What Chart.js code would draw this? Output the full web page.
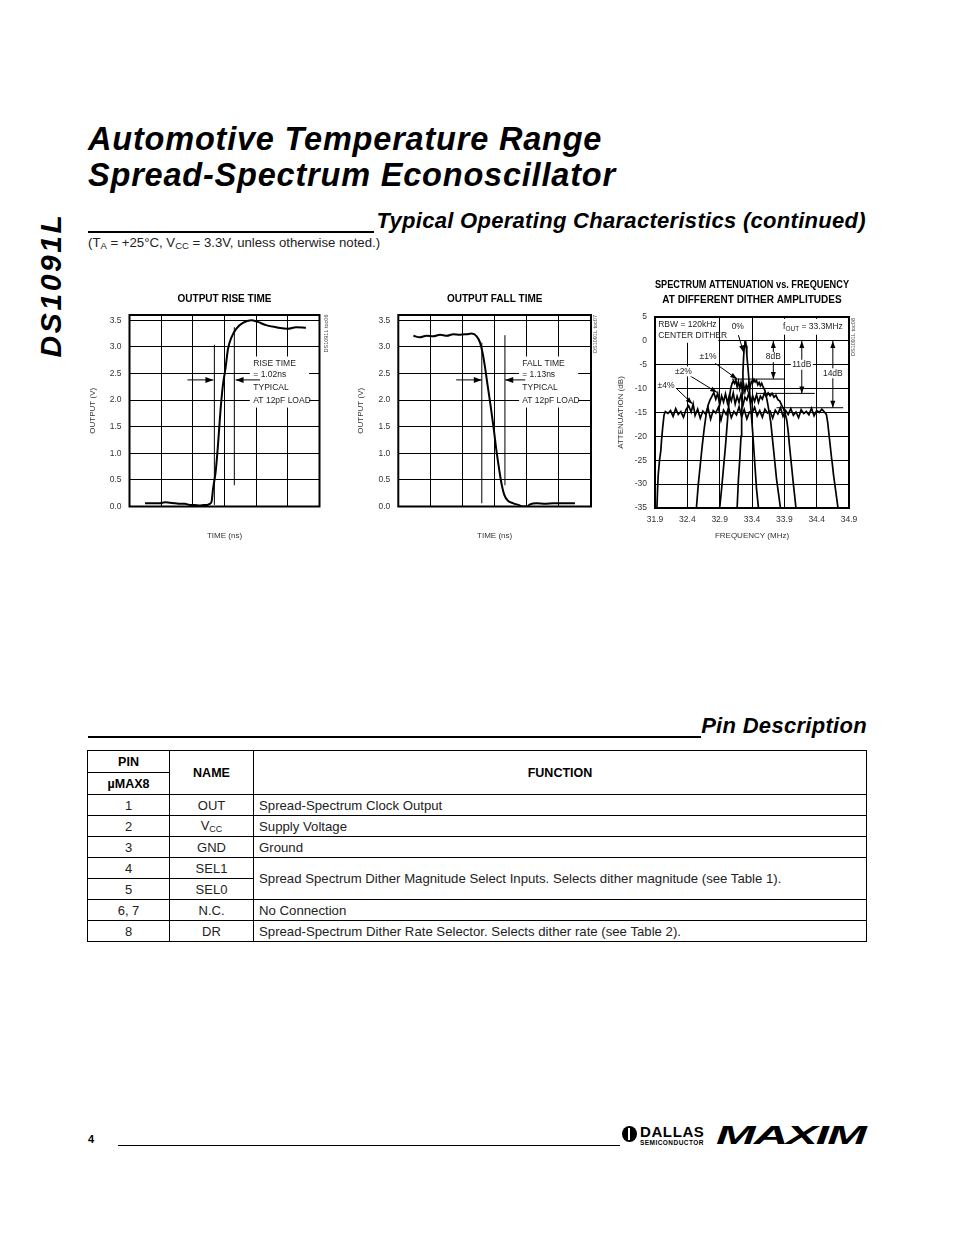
<!DOCTYPE html>
<html>
<head>
<meta charset="utf-8">
<script src="https://cdn.jsdelivr.net/npm/chart.js@4.4.0/dist/chart.umd.min.js"></script>
<style>
body { margin: 0; background: #fff; font-family: "Liberation Sans", Arial, sans-serif; color: #000; }
#page { position: relative; width: 954px; height: 1235px; overflow: hidden; background: #fff; }
.abs { position: absolute; }
.side { left: 51px; top: 285px; font: italic bold 30px "Liberation Sans", Arial, sans-serif; letter-spacing: 2.6px;
        transform: translate(-50%, -50%) rotate(-90deg); white-space: nowrap; }
.title { left: 88px; font: italic bold 32.5px/32.5px "Liberation Sans", Arial, sans-serif; letter-spacing: 0.8px; white-space: nowrap; }
.head { font: italic bold 22px/22px "Liberation Sans", Arial, sans-serif; letter-spacing: 0.3px; white-space: nowrap; text-align: right; }
.rule { height: 1.5px; background: #000; }
.cond { left: 88px; top: 235px; font-size: 13.2px; line-height: 15px; color: #222; white-space: nowrap; }
.cond .sb { font-size: 9.5px; position: relative; top: 2px; }
.chartbox { position: absolute; }
table.pins { position: absolute; left: 87px; top: 750px; width: 779px; border-collapse: collapse; table-layout: fixed;
             font-size: 13px; color: #222; }
table.pins td, table.pins th { border: 1px solid #000; padding: 0; text-align: center; vertical-align: middle; }
table.pins th { font-size: 12.5px; font-weight: bold; color: #000; height: 21px; }
table.pins td { height: 20px; }
table.pins td.fn { text-align: left; padding-left: 5px; font-size: 13.2px; }
table.pins sub { font-size: 9px; vertical-align: -2px; }
.pg { left: 88px; top: 1133px; font-size: 11px; font-weight: bold; }
.foot-rule { left: 118px; top: 1145px; width: 502px; height: 1px; background: #000; }
.dallas-icon { left: 622px; top: 1126px; width: 15px; height: 16px; border-radius: 50%; background: #000; }
.dallas-icon:after { content: ""; position: absolute; left: 6px; top: 2px; width: 2px; height: 12px; background: #fff; }
.dallas { left: 640px; top: 1123px; font: bold 15px "Liberation Sans", Arial, sans-serif; letter-spacing: 0.6px; }
.semi { left: 640px; top: 1139px; font: bold 6.5px "Liberation Sans", Arial, sans-serif; letter-spacing: 0.45px; }
.maxim { left: 716px; top: 1121px; font: italic 900 25px "Liberation Sans", Arial, sans-serif; transform: scaleX(1.9);
         transform-origin: left top; letter-spacing: -1px; }
</style>
</head>
<body>
<div id="page">
  <div class="abs side">DS1091L</div>
  <div class="abs title" style="top:122.5px;">Automotive Temperature Range</div>
  <div class="abs title" style="top:159px;">Spread-Spectrum Econoscillator</div>

  <div class="abs rule" style="left:88px; top:231px; width:286px;"></div>
  <div class="abs head" style="right:88px; top:210px;">Typical Operating Characteristics (continued)</div>
  <div class="abs cond">(T<span class="sb">A</span> = +25°C, V<span class="sb">CC</span> = 3.3V, unless otherwise noted.)</div>

  <div class="chartbox" style="left:80px; top:285px;"><canvas id="riseChart" width="260" height="260"></canvas></div>
  <div class="chartbox" style="left:345px; top:285px;"><canvas id="fallChart" width="265" height="260"></canvas></div>
  <div class="chartbox" style="left:610px; top:270px;"><canvas id="specChart" width="260" height="275"></canvas></div>

  <div class="abs rule" style="left:88px; top:736px; width:613px;"></div>
  <div class="abs head" style="right:87px; top:715px;">Pin Description</div>

  <table class="pins">
    <colgroup><col style="width:82px"><col style="width:84px"><col style="width:613px"></colgroup>
    <tr><th>PIN</th><th rowspan="2">NAME</th><th rowspan="2">FUNCTION</th></tr>
    <tr><th>µMAX8</th></tr>
    <tr><td>1</td><td>OUT</td><td class="fn">Spread-Spectrum Clock Output</td></tr>
    <tr><td>2</td><td>V<sub>CC</sub></td><td class="fn">Supply Voltage</td></tr>
    <tr><td>3</td><td>GND</td><td class="fn">Ground</td></tr>
    <tr><td>4</td><td>SEL1</td><td class="fn" rowspan="2">Spread Spectrum Dither Magnitude Select Inputs. Selects dither magnitude (see Table 1).</td></tr>
    <tr><td>5</td><td>SEL0</td></tr>
    <tr><td>6, 7</td><td>N.C.</td><td class="fn">No Connection</td></tr>
    <tr><td>8</td><td>DR</td><td class="fn">Spread-Spectrum Dither Rate Selector. Selects dither rate (see Table 2).</td></tr>
  </table>

  <div class="abs pg">4</div>
  <div class="abs foot-rule"></div>
  <div class="abs dallas-icon"></div>
  <div class="abs dallas">DALLAS</div>
  <div class="abs semi">SEMICONDUCTOR</div>
  <div class="abs maxim">MAXIM</div>
</div>

<script>
// tick / grid values
const voltTicks = [0, 0.5, 1, 1.5, 2, 2.5, 3, 3.5];
const timeGrid = [0, 1, 2, 3, 4, 5, 6];
const freqTicks = [31.9, 32.4, 32.9, 33.4, 33.9, 34.4, 34.9];
const attTicks = [5, 0, -5, -10, -15, -20, -25, -30, -35];

// output rise time (ns, V)
const riseTime = [0.49, 0.75, 0.96, 1.12, 1.28, 1.45, 1.59, 1.75, 1.91, 2.05, 2.22, 2.35, 2.45, 2.53, 2.59, 2.64,
                  2.72, 2.8, 2.87, 2.95, 3.03, 3.11, 3.22, 3.37, 3.58, 3.84, 4.05, 4.31, 4.63, 5.0, 5.26, 5.57];
const riseVolt = [0.06, 0.06, 0.06, 0.08, 0.07, 0.06, 0.05, 0.05, 0.03, 0.03, 0.02, 0.03, 0.03, 0.05, 0.09, 0.34,
                  0.65, 1.2, 1.78, 2.28, 2.59, 2.96, 3.18, 3.34, 3.45, 3.5, 3.47, 3.41, 3.37, 3.34, 3.37, 3.36];

// output fall time (ns, V)
const fallTime = [0.47, 0.67, 0.88, 1.09, 1.3, 1.51, 1.71, 1.92, 2.13, 2.28, 2.44, 2.54, 2.62, 2.7, 2.78, 2.88,
                  2.97, 3.06, 3.15, 3.22, 3.3, 3.41, 3.58, 3.74, 3.89, 4.0, 4.1, 4.31, 4.57, 4.83, 5.09, 5.5];
const fallVolt = [3.21, 3.18, 3.21, 3.2, 3.23, 3.21, 3.24, 3.23, 3.24, 3.25, 3.2, 3.09, 2.9, 2.62, 2.28, 1.87,
                  1.47, 1.03, 0.66, 0.41, 0.22, 0.11, 0.06, 0.03, 0.0, 0.0, 0.04, 0.06, 0.05, 0.06, 0.06, 0.06];

// spectrum, 0% dither (MHz, dB)
const f0 = [33.17, 33.19, 33.21, 33.23, 33.24, 33.25, 33.26, 33.27, 33.28, 33.29, 33.30, 33.31, 33.32, 33.34,
            33.36, 33.37, 33.39, 33.41, 33.43, 33.45, 33.47, 33.50];
const a0 = [-35, -29, -25, -20, -16, -11, -6.5, -3.5, -1.2, -0.2, -0.1, -1, -3, -6, -9.5, -12, -15.5, -19, -23, -27, -31, -35];

// spectrum, +/-1% dither
const f1 = [32.90, 32.93, 32.96, 32.99, 33.01, 33.03, 33.05, 33.07, 33.09, 33.11, 33.13, 33.15, 33.17, 33.19, 33.21,
            33.23, 33.25, 33.27, 33.29, 33.31, 33.33, 33.35, 33.37, 33.39, 33.41, 33.43, 33.45, 33.47, 33.49, 33.51,
            33.53, 33.55, 33.57, 33.60, 33.63, 33.66, 33.69, 33.72, 33.75, 33.78, 33.81, 33.84];
const a1 = [-35, -31, -26.5, -22, -18.5, -15, -12, -10, -9.0, -8.4, -8.9, -8.2, -9.6, -8.5, -10.0,
            -8.7, -10.4, -9.1, -10.6, -9.3, -10.2, -8.9, -9.7, -8.5, -8.8, -8.1, -8.6, -8.3, -9.2, -8.7,
            -9.4, -8.9, -9.6, -10.4, -12.2, -14.5, -17, -21, -25, -29, -32, -35];

// spectrum, +/-2% dither
const f2 = [32.54, 32.57, 32.60, 32.63, 32.66, 32.69, 32.72, 32.75, 32.78, 32.81, 32.84, 32.87, 32.90, 32.93, 32.96,
            32.99, 33.02, 33.05, 33.08, 33.11, 33.14, 33.17, 33.20, 33.23, 33.26, 33.29, 33.32, 33.35, 33.38, 33.41,
            33.44, 33.47, 33.50, 33.53, 33.56, 33.59, 33.62, 33.65, 33.68, 33.71, 33.74, 33.77, 33.80, 33.83, 33.86,
            33.89, 33.92, 33.94, 33.96, 33.98, 34.01, 34.04, 34.08];
const a2 = [-35, -30, -26, -22, -18.5, -15.5, -13.5, -12.4, -11.6, -10.8, -12.2, -11.0, -13.4, -11.5, -12.8,
            -11.1, -13.0, -11.4, -12.6, -10.9, -13.2, -11.6, -12.9, -11.2, -13.5, -11.8, -12.4, -11.0, -13.1, -11.5,
            -12.7, -11.3, -12.9, -11.6, -12.2, -11.0, -11.7, -10.9, -11.5, -11.0, -11.8, -11.4, -12.3, -12.6, -13.5,
            -14.3, -15.6, -16.8, -19, -22, -26, -30, -35];

// spectrum, +/-4% dither
const f4 = [31.93, 31.94, 31.95, 31.97, 31.99, 32.00, 32.02, 32.04, 32.06,
            32.10, 32.14, 32.18, 32.22, 32.26, 32.30, 32.34, 32.38, 32.42, 32.46, 32.49, 32.52, 32.56, 32.60, 32.64,
            32.68, 32.72, 32.76, 32.80, 32.84, 32.88, 32.92, 32.96, 33.00, 33.04, 33.08, 33.12, 33.16, 33.20, 33.24,
            33.28, 33.32, 33.36, 33.40, 33.44, 33.48, 33.52, 33.56, 33.60, 33.64, 33.68, 33.72, 33.76, 33.80, 33.84,
            33.88, 33.92, 33.96, 34.00, 34.04, 34.08, 34.12, 34.16, 34.20, 34.24, 34.28, 34.32, 34.36, 34.40, 34.44,
            34.48, 34.52, 34.55, 34.57, 34.59, 34.61, 34.63, 34.64, 34.66, 34.68, 34.70, 34.73];
const a4 = [-35, -31, -28, -25, -23, -21, -18, -15.5, -14.8,
            -15.2, -14.6, -15.8, -14.2, -15.4, -14.8, -16.0, -14.4, -13.6, -14.9, -13.2, -15.6, -14.3, -16.2, -14.7,
            -15.3, -14.0, -16.4, -14.6, -15.1, -13.9, -16.6, -14.5, -15.4, -14.1, -16.1, -14.8, -15.5, -13.8, -15.9,
            -14.4, -16.3, -14.9, -15.2, -13.9, -15.7, -14.6, -16.0, -14.3, -15.1, -14.7, -16.2, -14.5, -15.3, -14.0,
            -15.8, -14.6, -15.4, -14.2, -15.6, -14.9, -16.1, -14.4, -15.2, -14.8, -15.5, -14.1, -15.7, -14.6, -15.0,
            -14.3, -14.9, -15.4, -17, -19.5, -22, -24.5, -25.5, -28, -30, -32, -35];

const fam = '"Liberation Sans", Arial, sans-serif';
Chart.defaults.font.family = fam;

function pts(xs, ys) {
    return xs.map((x, i) => ({ x: x, y: ys[i] }));
}

function head(ctx, x1, y1, x2, y2, L, W) {
    const a = Math.atan2(y2 - y1, x2 - x1);
    ctx.beginPath();
    ctx.moveTo(x2, y2);
    ctx.lineTo(x2 - L * Math.cos(a) + W * Math.sin(a), y2 - L * Math.sin(a) - W * Math.cos(a));
    ctx.lineTo(x2 - L * Math.cos(a) - W * Math.sin(a), y2 - L * Math.sin(a) + W * Math.cos(a));
    ctx.closePath();
    ctx.fill();
}

// annotations (text, arrows, marker lines) + plot frame
function makeNotes(n) {
    return {
        id: 'notes',
        beforeDatasetsDraw(chart) {
            const ctx = chart.ctx, sx = chart.scales.x, sy = chart.scales.y;
            ctx.save();
            ctx.fillStyle = '#fff';
            (n.boxes || []).forEach(b => {
                const x1 = sx.getPixelForValue(b[0]), y1 = sy.getPixelForValue(b[1]);
                const x2 = sx.getPixelForValue(b[2]), y2 = sy.getPixelForValue(b[3]);
                ctx.fillRect(x1, y1, x2 - x1, y2 - y1);
            });
            ctx.restore();
        },
        afterDraw(chart) {
            const ctx = chart.ctx, sx = chart.scales.x, sy = chart.scales.y, a = chart.chartArea;
            const L = n.headL || 7, W = n.headW || 2.6;
            ctx.save();
            ctx.strokeStyle = '#000';
            ctx.fillStyle = '#000';
            ctx.lineWidth = 1;
            (n.lines || []).forEach(l => {
                ctx.beginPath();
                ctx.moveTo(sx.getPixelForValue(l[0]), sy.getPixelForValue(l[1]));
                ctx.lineTo(sx.getPixelForValue(l[2]), sy.getPixelForValue(l[3]));
                ctx.stroke();
            });
            (n.arrows || []).forEach(l => {
                const x1 = sx.getPixelForValue(l[0]), y1 = sy.getPixelForValue(l[1]);
                const x2 = sx.getPixelForValue(l[2]), y2 = sy.getPixelForValue(l[3]);
                ctx.beginPath();
                ctx.moveTo(x1, y1);
                ctx.lineTo(x2, y2);
                ctx.stroke();
                head(ctx, x1, y1, x2, y2, L, W);
            });
            (n.dbl || []).forEach(d => {
                const x = sx.getPixelForValue(d[0]), y1 = sy.getPixelForValue(d[1]), y2 = sy.getPixelForValue(d[2]);
                ctx.beginPath();
                ctx.moveTo(x, y1);
                ctx.lineTo(x, y2);
                ctx.stroke();
                head(ctx, x, y1 + 10, x, y1, L, W);
                head(ctx, x, y2 - 10, x, y2, L, W);
            });
            ctx.font = (n.size || 8.5) + 'px ' + fam;
            ctx.textBaseline = 'middle';
            (n.texts || []).forEach(t => {
                const x = sx.getPixelForValue(t[0]), y = sy.getPixelForValue(t[1]);
                ctx.textAlign = t[3] || 'left';
                if (t[4]) {
                    const w = ctx.measureText(t[2]).width;
                    const lx = t[3] === 'center' ? x - w / 2 : x;
                    ctx.fillStyle = '#fff';
                    ctx.fillRect(lx - 1.5, y - 5, w + 3, 10);
                }
                ctx.fillStyle = '#222';
                ctx.fillText(t[2], x, y);
            });
            if (n.fout) {
                let x = sx.getPixelForValue(n.fout[0]);
                const y = sy.getPixelForValue(n.fout[1]);
                ctx.textAlign = 'left';
                ctx.fillText('f', x, y);
                x += ctx.measureText('f').width;
                ctx.font = '6.5px ' + fam;
                ctx.fillText('OUT', x, y + 2.5);
                x += ctx.measureText('OUT').width;
                ctx.font = (n.size || 8.5) + 'px ' + fam;
                ctx.fillText(' = 33.3MHz', x, y);
            }
            if (n.tag) {
                ctx.save();
                ctx.translate(a.right + n.tag[0], a.top + n.tag[1]);
                ctx.rotate(-Math.PI / 2);
                ctx.font = '5.5px ' + fam;
                ctx.textAlign = 'center';
                ctx.fillStyle = '#444';
                ctx.fillText(n.tag[2], 0, 0);
                ctx.restore();
            }
            //frame
            ctx.lineWidth = 2;
            ctx.strokeStyle = '#000';
            ctx.strokeRect(a.left, a.top, a.right - a.left, a.bottom - a.top);
            ctx.restore();
        }
    };
}

function gridOpts() {
    return { color: '#000', lineWidth: 1, drawTicks: false };
}

function timeChart(id, title, tx, ty, padL, padR, notes) {
    const data = {
        datasets: [{
            data: pts(tx, ty),
            borderColor: '#000',
            borderWidth: 2,
            pointRadius: 0,
            cubicInterpolationMode: 'monotone'
        }]
    };
    const config = {
        type: 'line',
        data,
        options: {
            responsive: false,
            animation: false,
            devicePixelRatio: 1,
            layout: { padding: { left: padL, right: padR, top: 0, bottom: 0.5 } },
            plugins: {
                legend: { display: false },
                tooltip: { enabled: false },
                title: {
                    display: true, text: title, color: '#000', fullSize: false,
                    font: { size: 10, weight: 'bold' },
                    padding: { top: 8, bottom: 10 }
                }
            },
            scales: {
                x: {
                    type: 'linear', min: 0, max: 6,
                    afterBuildTicks: s => { s.ticks = timeGrid.map(v => ({ value: v })); },
                    afterFit: s => { s.height = 38; },
                    grid: gridOpts(),
                    border: { display: false },
                    ticks: { display: false },
                    title: { display: true, text: 'TIME (ns)', color: '#333', font: { size: 8 }, padding: { top: 0, bottom: 3.7 } }
                },
                y: {
                    type: 'linear', min: 0, max: 3.6,
                    afterBuildTicks: s => { s.ticks = voltTicks.map(v => ({ value: v })); },
                    afterFit: s => { s.width = 46; },
                    grid: gridOpts(),
                    border: { display: false },
                    ticks: { color: '#333', font: { size: 8.5 }, padding: 8, callback: v => v.toFixed(1) },
                    title: { display: true, text: 'OUTPUT (V)', color: '#333', font: { size: 8 }, padding: { top: 4, bottom: 0 } }
                }
            }
        },
        plugins: [makeNotes(notes)]
    };
    return new Chart(document.getElementById(id), config);
}

// rise time
timeChart('riseChart', 'OUTPUT RISE TIME', riseTime, riseVolt, 3.5, 20.5, {
    headL: 8, headW: 3,
    boxes: [[3.8, 2.82, 5.67, 1.86]],
    lines: [[2.68, 3.04, 2.68, 0.03], [3.31, 3.37, 3.31, 0.4]],
    arrows: [[1.83, 2.38, 2.65, 2.38], [4.12, 2.38, 3.35, 2.38]],
    texts: [[3.91, 2.68, 'RISE TIME'], [3.91, 2.47, '= 1.02ns'], [3.91, 2.24, 'TYPICAL'], [3.91, 1.99, 'AT 12pF LOAD']],
    tag: [6.5, 18.5, 'DS1091L toc06']
});

// fall time
timeChart('fallChart', 'OUTPUT FALL TIME', fallTime, fallVolt, 7.3, 19, {
    headL: 8, headW: 3,
    boxes: [[3.76, 2.82, 5.6, 1.86]],
    lines: [[2.6, 3.08, 2.6, 0.06], [3.32, 3.22, 3.32, 0.4]],
    arrows: [[1.8, 2.38, 2.6, 2.38], [3.95, 2.38, 3.33, 2.38]],
    texts: [[3.86, 2.68, 'FALL TIME'], [3.86, 2.47, '= 1.13ns'], [3.86, 2.24, 'TYPICAL'], [3.86, 1.99, 'AT 12pF LOAD']],
    tag: [4, 19, 'DS1091L toc07']
});

// spectrum attenuation
const specData = {
    datasets: [
        { label: '±4%', data: pts(f4, a4) },
        { label: '±2%', data: pts(f2, a2) },
        { label: '±1%', data: pts(f1, a1) },
        { label: '0%', data: pts(f0, a0) }
    ].map(d => Object.assign(d, { borderColor: '#000', borderWidth: 1.7, pointRadius: 0, tension: 0 }))
};

const specConfig = {
    type: 'line',
    data: specData,
    options: {
        responsive: false,
        animation: false,
        devicePixelRatio: 1,
        layout: { padding: { left: 5, right: 21, top: 0, bottom: 0 } },
        plugins: {
            legend: { display: false },
            tooltip: { enabled: false },
            title: {
                display: true,
                text: ['SPECTRUM ATTENUATION vs. FREQUENCY', 'AT DIFFERENT DITHER AMPLITUDES'],
                color: '#000',
                fullSize: false,
                font: { size: 10, weight: 'bold', lineHeight: 1.5 },
                padding: { top: 7.5, bottom: 9.5 }
            }
        },
        scales: {
            x: {
                type: 'linear', min: 31.9, max: 34.9,
                afterBuildTicks: s => { s.ticks = freqTicks.map(v => ({ value: v })); },
                afterFit: s => { s.height = 37; },
                grid: gridOpts(),
                border: { display: false },
                ticks: { color: '#333', font: { size: 8.5 }, padding: 7, autoSkip: false, maxRotation: 0, callback: v => v.toFixed(1) },
                title: { display: true, text: 'FREQUENCY (MHz)', color: '#333', font: { size: 8 }, padding: { top: 0, bottom: 4.2 } }
            },
            y: {
                type: 'linear', min: -35, max: 5,
                afterBuildTicks: s => { s.ticks = attTicks.map(v => ({ value: v })); },
                afterFit: s => { s.width = 40; },
                grid: gridOpts(),
                border: { display: false },
                ticks: { color: '#333', font: { size: 8.5 }, padding: 8, callback: v => String(v) },
                title: { display: true, text: 'ATTENUATION (dB)', color: '#333', font: { size: 8 }, padding: { top: 0.5, bottom: 0 } }
            }
        }
    },
    plugins: [makeNotes({
        headL: 7, headW: 2.5,
        boxes: [[31.9, 5, 32.88, -0.4], [33.85, 4.6, 34.85, 1.3]],
        lines: [[33.09, -8, 33.91, -8], [33.47, -11, 34.37, -11], [33.78, -14, 34.81, -14]],
        arrows: [[33.19, 1.2, 33.27, -2.4], [32.83, -4.7, 33.17, -8.0], [32.44, -7.3, 32.86, -10.8], [32.24, -10.1, 32.48, -13.2]],
        dbl: [[33.73, 0, -8], [34.17, 0, -11], [34.65, 0, -14]],
        texts: [[31.95, 3.3, 'RBW = 120kHz'], [31.95, 1.0, 'CENTER DITHER'], [33.18, 3.0, '0%', 'center'],
                [32.72, -3.3, '±1%', 'center', true], [32.34, -6.4, '±2%', 'center', true], [32.07, -9.4, '±4%', 'center', true],
                [33.73, -3.4, '8dB', 'center', true], [34.17, -5.0, '11dB', 'center', true], [34.65, -6.8, '14dB', 'center', true]],
        fout: [33.88, 3.0],
        tag: [4.5, 20, 'DS1091L toc08']
    })]
};

const specChart = new Chart(document.getElementById('specChart'), specConfig);
</script>
</body>
</html>
